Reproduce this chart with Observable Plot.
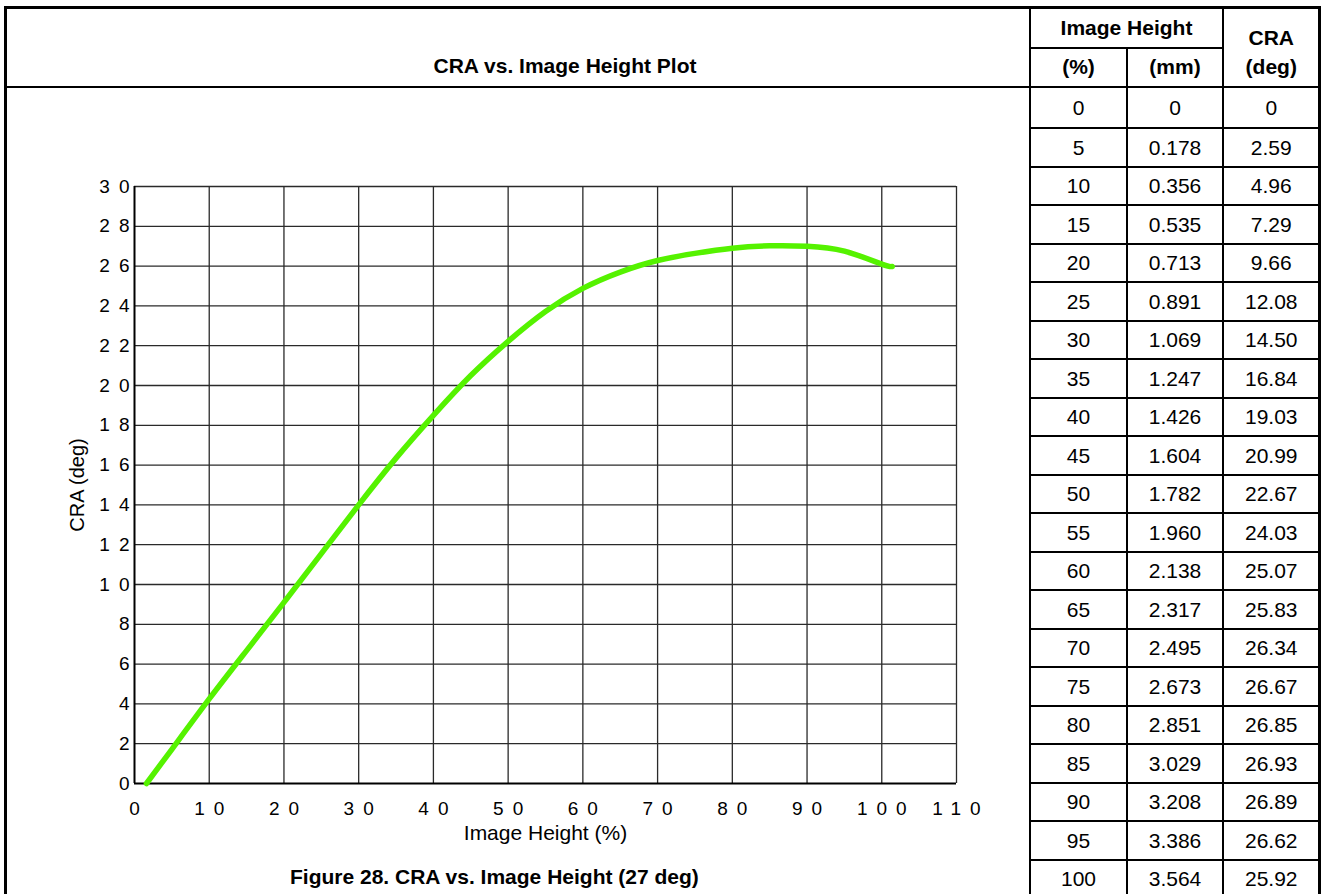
<!DOCTYPE html>
<html><head><meta charset="utf-8">
<script src="https://cdn.jsdelivr.net/npm/d3@7"></script>
<script src="https://cdn.jsdelivr.net/npm/@observablehq/plot@0.6"></script>
<style>
html,body{margin:0;padding:0;background:#fff;}
body{width:1323px;height:894px;overflow:hidden;position:relative;font-family:"Liberation Sans",Arial,Helvetica,sans-serif;color:#000;}
.ln{position:absolute;background:#000;}
.tx{position:absolute;text-align:center;white-space:nowrap;line-height:24px;height:24px;}
.b{font-weight:bold;}
#chart{position:absolute;left:0;top:0;}
#chart svg g[aria-label="x-axis tick label"] text,
#chart svg g[aria-label="y-axis tick label"] text{letter-spacing:9px;}
#chart svg g[aria-label="x-axis label"] text{font-size:21px;}
#chart svg g[aria-label="y-axis label"] text{font-size:20px;}
</style>
</head><body>
<div id="chart"></div>
<script>
// ---- data ----
const pct = [0,5,10,15,20,25,30,35,40,45,50,55,60,65,70,75,80,85,90,95,100];
const mm  = ["0","0.178","0.356","0.535","0.713","0.891","1.069","1.247","1.426","1.604","1.782","1.960","2.138","2.317","2.495","2.673","2.851","3.029","3.208","3.386","3.564"];
const cra = ["0","2.59","4.96","7.29","9.66","12.08","14.50","16.84","19.03","20.99","22.67","24.03","25.07","25.83","26.34","26.67","26.85","26.93","26.89","26.62","25.92"];

// curve as drawn in the plot
const curveX = [1.6, 5, 10, 15, 20, 25, 30, 35, 40, 45, 50, 55, 60, 65, 70, 75, 80, 85, 90, 95, 100, 101.4];
const curveY = [0, 1.72, 4.25, 6.68, 9.1, 11.55, 14.0, 16.35, 18.5, 20.5, 22.22, 23.72, 24.88, 25.7, 26.28, 26.64, 26.9, 27.02, 27.0, 26.75, 26.1, 25.98];

const xTicks = [0,10,20,30,40,50,60,70,80,90,100,110];
const yTicks = [0,2,4,6,8,10,12,14,16,18,20,22,24,26,28,30];

const titleText = "CRA vs. Image Height Plot";
const captionText = "Figure 28. CRA vs. Image Height (27 deg)";
const xLabel = "Image Height (%)";
const yLabel = "CRA (deg)";

// ---- chart ----
const points = curveX.map((x, i) => ({x, y: curveY[i]}));
const chart = Plot.plot({
  width: 1030, height: 894,
  marginLeft: 134, marginRight: 74, marginTop: 186, marginBottom: 111,
  style: {background: "transparent", fontFamily: '"Liberation Sans", Arial, sans-serif', fontSize: "19px", color: "#000", overflow: "visible"},
  x: {domain: [0, 110]},
  y: {domain: [0, 30]},
  marks: [
    Plot.gridX(xTicks.slice(1), {stroke: "#2a2a2a", strokeOpacity: 1, strokeWidth: 1.3}),
    Plot.gridY(yTicks.slice(1), {stroke: "#2a2a2a", strokeOpacity: 1, strokeWidth: 1.3}),
    Plot.ruleX([0], {stroke: "#000", strokeWidth: 2}),
    Plot.ruleY([0], {stroke: "#000", strokeWidth: 2}),
    Plot.axisX(xTicks, {tickSize: 0, tickPadding: 18, dx: 4.5, label: xLabel, labelArrow: "none", labelAnchor: "center", labelOffset: 56, fontSize: 19}),
    Plot.axisY(yTicks, {tickSize: 0, tickPadding: 5, dx: 9, label: yLabel, labelArrow: "none", labelAnchor: "center", labelOffset: 65, fontSize: 19}),
    Plot.line(points, {x: "x", y: "y", stroke: "#55f200", strokeWidth: 5.5, curve: "natural", strokeLinecap: "round"})
  ]
});
// strip any direction arrows from the axis labels
d3.select(chart).selectAll('g[aria-label$="axis label"] text').each(function () {
  this.textContent = this.textContent.replace(/[\u2190-\u2193]/g, "").trim();
});
document.getElementById("chart").appendChild(chart);

// ---- table frame ----
const body = document.body;
function line(x, y, w, h) {
  const d = document.createElement("div");
  d.className = "ln";
  d.style.left = x + "px"; d.style.top = y + "px"; d.style.width = w + "px"; d.style.height = h + "px";
  body.appendChild(d);
}
function text(s, cx, cy, bold) {
  const d = document.createElement("div");
  d.className = "tx" + (bold ? " b" : "");
  d.style.width = "400px";
  d.style.left = (cx - 200) + "px";
  d.style.top = (cy - 12) + "px";
  d.style.fontSize = "21px";
  d.textContent = s;
  body.appendChild(d);
}
const vx = [5.5, 1030, 1127, 1223, 1319.5];
const topY = 7.3, midY = 47.7, headY = 87, row0Y = 128.3, rowH = 38.5;
// outer + vertical lines
line(vx[0] - 1.5, topY - 1.5, 3, 894);
line(vx[4] - 1.5, topY - 1.5, 3, 894);
line(vx[1] - 1, topY, 2, 894);
line(vx[2] - 1, midY, 2, 894);
line(vx[3] - 1, topY, 2, 894);
line(vx[0] - 1.5, topY - 1.5, vx[4] - vx[0] + 3, 3);
line(vx[1], midY - 1, vx[3] - vx[1], 2);
line(vx[0], headY - 1.2, vx[4] - vx[0], 2.4);
for (let k = 0; k < pct.length; k++) line(vx[1], row0Y + k * rowH - 1, vx[4] - vx[1], 2);

// header texts
text(titleText, 565, 66, true);
text("Image Height", (vx[1] + vx[3]) / 2, (topY + midY) / 2, true);
text("(%)", (vx[1] + vx[2]) / 2, (midY + headY) / 2, true);
text("(mm)", (vx[2] + vx[3]) / 2, (midY + headY) / 2, true);
text("CRA", (vx[3] + vx[4]) / 2, 37.5, true);
text("(deg)", (vx[3] + vx[4]) / 2, 67, true);

// rows
pct.forEach((p, k) => {
  const cy = k === 0 ? (headY + row0Y) / 2 : row0Y + rowH * (k - 0.5);
  text(String(p), (vx[1] + vx[2]) / 2, cy, false);
  text(mm[k], (vx[2] + vx[3]) / 2, cy, false);
  text(cra[k], (vx[3] + vx[4]) / 2, cy, false);
});

// caption
text(captionText, 490, 877, true);
</script>
</body></html>
